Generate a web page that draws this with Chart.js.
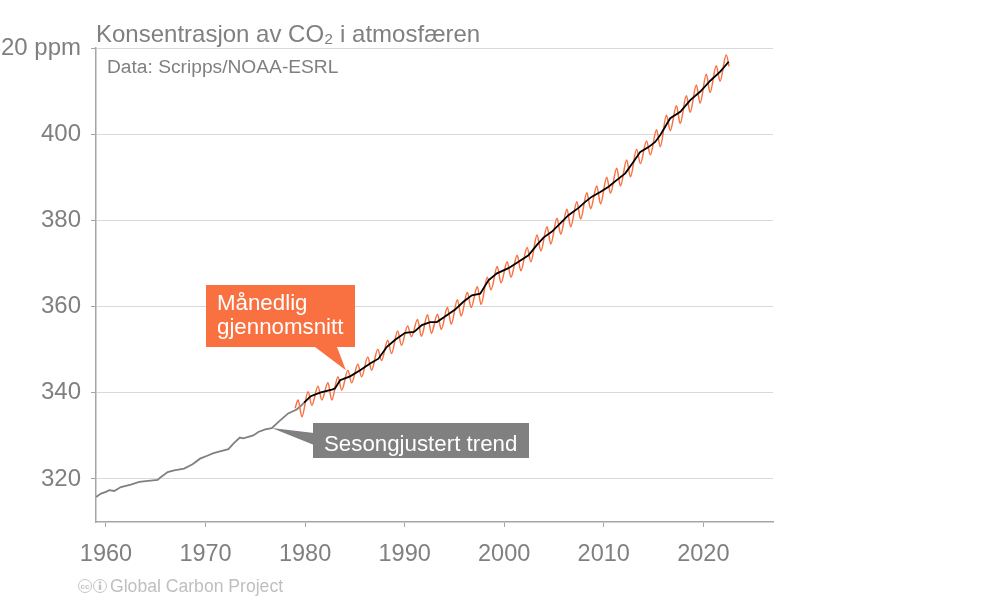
<!DOCTYPE html>
<html lang="no">
<head>
<meta charset="utf-8">
<title>Konsentrasjon av CO2 i atmosfæren</title>
<script src="https://cdn.jsdelivr.net/npm/chart.js@4/dist/chart.umd.min.js"></script>
<style>
  html, body { margin: 0; padding: 0; background: #fff; overflow: hidden; }
  canvas { display: block; }
</style>
</head>
<body>
<canvas id="co2Chart" width="1000" height="600"></canvas>
<script>
// values
const xTicks = [1960, 1970, 1980, 1990, 2000, 2010, 2020];
const yTicks = [320, 340, 360, 380, 400, 420];

// seasonally adjusted trend before the monthly data starts
const earlyYears = [
  1959.0, 1959.5, 1960.0, 1960.33, 1960.83, 1961.5, 1962.5, 1963.35, 1964.0, 1965.2, 1965.5,
  1966.2, 1966.85, 1967.85, 1968.7, 1969.45, 1970.3, 1970.8, 1971.45, 1972.3, 1972.8, 1973.45,
  1973.8, 1974.8, 1975.3, 1976.0, 1976.65, 1977.5, 1978.3, 1979.15, 1979.65, 1979.9
];
const earlyPpm = [
  315.8, 316.6, 317.0, 317.4, 317.2, 318.1, 318.7, 319.3, 319.5, 319.8, 320.4,
  321.6, 322.0, 322.4, 323.4, 324.7, 325.5, 326.0, 326.4, 326.9, 328.2, 329.6,
  329.4, 330.1, 330.9, 331.5, 331.8, 333.6, 335.2, 336.1, 337.1, 337.7
];

// seasonally adjusted trend
const trendYears = [
  1979.9, 1980.57, 1981.5, 1982.68, 1983.0, 1983.52, 1984.52, 1985.53, 1986.53, 1987.37, 1988.2,
  1989.05, 1990.05, 1990.95, 1991.73, 1992.56, 1993.24, 1994.24, 1995.07, 1995.9, 1996.75,
  1997.59, 1998.42, 1999.27, 2000.43, 2001.44, 2002.44, 2003.29, 2003.95, 2004.8, 2005.63,
  2006.46, 2007.47, 2008.14, 2008.81, 2009.65, 2010.48, 2011.33, 2012.16, 2012.99, 2013.67,
  2014.5, 2015.17, 2015.68, 2016.68, 2017.69, 2018.69, 2019.7, 2020.7, 2021.7, 2022.55
];
const trendPpm = [
  337.7, 339.2, 340.0, 340.7, 341.0, 342.9, 343.8, 345.2, 346.8, 347.9, 350.6,
  352.3, 353.9, 354.1, 355.7, 356.4, 356.4, 358.0, 359.3, 361.1, 362.6,
  363.0, 366.1, 367.7, 368.9, 370.4, 371.9, 374.3, 376.0, 377.4, 379.3,
  381.2, 382.9, 384.3, 385.5, 386.6, 387.8, 389.4, 390.9, 393.6, 395.9,
  397.0, 398.2, 399.8, 403.7, 405.2, 407.9, 409.9, 412.4, 414.5, 416.8
];

// monthly mean, spring tops and autumn bottoms of each year
const monthlyYears = [
  1979.0, 1979.3, 1979.68, 1980.3, 1980.68, 1981.3, 1981.68, 1982.3, 1982.68, 1983.3, 1983.68,
  1984.3, 1984.68, 1985.3, 1985.68, 1986.3, 1986.68, 1987.3, 1987.68, 1988.3, 1988.68,
  1989.3, 1989.68, 1990.3, 1990.68, 1991.3, 1991.68, 1992.3, 1992.68, 1993.3, 1993.68,
  1994.3, 1994.68, 1995.3, 1995.68, 1996.3, 1996.68, 1997.3, 1997.68, 1998.3, 1998.68,
  1999.3, 1999.68, 2000.3, 2000.68, 2001.3, 2001.68, 2002.3, 2002.68, 2003.3, 2003.68,
  2004.3, 2004.68, 2005.3, 2005.68, 2006.3, 2006.68, 2007.3, 2007.68, 2008.3, 2008.68,
  2009.3, 2009.68, 2010.3, 2010.68, 2011.3, 2011.68, 2012.3, 2012.68, 2013.3, 2013.68,
  2014.3, 2014.68, 2015.3, 2015.68, 2016.3, 2016.68, 2017.3, 2017.68, 2018.3, 2018.68,
  2019.3, 2019.68, 2020.3, 2020.68, 2021.3, 2021.68, 2022.3, 2022.6
];
const monthlyPpm = [
  336.4, 338.3, 334.4, 340.2, 337.1, 341.5, 338.3, 342.3, 338.3, 343.7, 340.6,
  345.2, 342.3, 346.6, 343.7, 348.3, 345.2, 350.1, 347.5, 352.2, 349.1,
  354.3, 351.0, 355.5, 353.0, 357.0, 353.1, 358.1, 353.8, 358.2, 354.7,
  359.8, 355.9, 361.6, 357.8, 363.3, 359.8, 364.6, 360.5, 366.8, 363.9,
  369.3, 365.5, 370.4, 366.8, 371.9, 368.3, 373.7, 370.4, 376.6, 372.9,
  378.5, 374.5, 380.5, 376.8, 382.6, 378.5, 384.3, 380.3, 386.4, 382.7,
  388.0, 383.8, 390.0, 386.3, 392.1, 388.0, 394.0, 390.1, 396.5, 393.2,
  398.4, 395.2, 401.0, 397.1, 404.4, 400.8, 406.6, 402.5, 408.9, 405.1,
  411.4, 407.2, 413.9, 409.7, 415.9, 412.3, 418.4, 415.7
];

function toPoints(years, values) {
  return years.map((year, i) => ({ x: year, y: values[i] }));
}

const FONT = '"Liberation Sans", Arial, sans-serif';
const GREY = "#808080";
const ORANGE = "#f97141";

// texts and callouts around the plot
const extras = {
  id: "extras",
  afterDraw(chart) {
    const ctx = chart.ctx;
    const xs = chart.scales.x;
    const ys = chart.scales.y;
    ctx.save();
    ctx.textBaseline = "alphabetic";
    ctx.textAlign = "left";

    ctx.fillStyle = GREY;
    ctx.font = "24px " + FONT;
    ctx.fillText("Konsentrasjon av CO₂ i atmosfæren", 96, 42);
    ctx.font = "19.2px " + FONT;
    ctx.fillText("Data: Scripps/NOAA-ESRL", 107, 73);

    // orange callout, the tip sits on the monthly curve
    ctx.fillStyle = ORANGE;
    ctx.fillRect(206, 285, 149, 62);
    ctx.beginPath();
    ctx.moveTo(315, 347);
    ctx.lineTo(337, 347);
    ctx.lineTo(xs.getPixelForValue(1984.1), ys.getPixelForValue(345.2));
    ctx.fill();
    ctx.fillStyle = "#fff";
    ctx.font = "22.3px " + FONT;
    ctx.fillText("Månedlig", 217, 310);
    ctx.fillText("gjennomsnitt", 217, 334);

    // grey callout
    ctx.fillStyle = GREY;
    ctx.fillRect(313, 423, 216, 35);
    ctx.beginPath();
    ctx.moveTo(314, 433);
    ctx.lineTo(314, 445);
    ctx.lineTo(xs.getPixelForValue(1976.65), ys.getPixelForValue(331.8));
    ctx.fill();
    ctx.fillStyle = "#fff";
    ctx.fillText("Sesongjustert trend", 324, 451);

    // footer with the two licence badges
    ctx.strokeStyle = "#c4c4c4";
    ctx.fillStyle = "#c4c4c4";
    ctx.lineWidth = 1;
    ctx.beginPath();
    ctx.arc(85, 586, 6.5, 0, Math.PI * 2);
    ctx.stroke();
    ctx.beginPath();
    ctx.arc(100, 586, 6.5, 0, Math.PI * 2);
    ctx.stroke();
    ctx.font = "bold 8px " + FONT;
    ctx.textAlign = "center";
    ctx.fillText("cc", 85, 589);
    ctx.beginPath();
    ctx.arc(100, 582.5, 1.2, 0, Math.PI * 2);
    ctx.fill();
    ctx.fillRect(98.8, 584.5, 2.4, 5.5);
    ctx.textAlign = "left";
    ctx.fillStyle = "#bfbfbf";
    ctx.font = "17.6px " + FONT;
    ctx.fillText("Global Carbon Project", 110, 592);
    ctx.restore();
  },
};

new Chart(document.getElementById("co2Chart"), {
  type: "line",
  data: {
    datasets: [
      {
        label: "Sesongjustert trend",
        data: toPoints(trendYears, trendPpm),
        borderColor: "#000",
        borderWidth: 1.8,
      },
      {
        label: "Månedlig gjennomsnitt",
        data: toPoints(monthlyYears, monthlyPpm),
        borderColor: ORANGE,
        borderWidth: 1.5,
        cubicInterpolationMode: "monotone",
      },
      {
        label: "Sesongjustert trend før 1980",
        data: toPoints(earlyYears, earlyPpm),
        borderColor: GREY,
        borderWidth: 1.8,
      },
    ],
  },
  options: {
    responsive: false,
    animation: false,
    parsing: false,
    elements: { point: { radius: 0 } },
    layout: { autoPadding: false, padding: { top: 48, right: 227, left: 0, bottom: 0 } },
    plugins: { legend: { display: false }, tooltip: { enabled: false } },
    scales: {
      x: {
        type: "linear",
        min: 1959,
        max: 2027,
        afterFit(scale) { scale.height = 78; },
        afterBuildTicks(scale) { scale.ticks = xTicks.map((value) => ({ value })); },
        border: { color: "#a6a6a6", width: 1.5 },
        grid: { drawOnChartArea: false, tickLength: 5, tickColor: "#a6a6a6" },
        ticks: {
          includeBounds: false,
          maxRotation: 0,
          autoSkip: false,
          padding: 13,
          color: GREY,
          font: { family: FONT, size: 23.5 },
          callback: (value) => String(value),
        },
      },
      y: {
        min: 310,
        max: 420,
        afterFit(scale) { scale.width = 96; },
        afterBuildTicks(scale) { scale.ticks = yTicks.map((value) => ({ value })); },
        border: { color: "#a6a6a6", width: 1.5 },
        grid: { color: "#d9d9d9", lineWidth: 1, tickLength: 5, tickColor: "#a6a6a6" },
        ticks: {
          includeBounds: false,
          padding: 10,
          color: GREY,
          font: { family: FONT, size: 24 },
          callback: (value) => (value === 420 ? "420 ppm" : String(value)),
        },
      },
    },
  },
  plugins: [extras],
});
</script>
</body>
</html>
